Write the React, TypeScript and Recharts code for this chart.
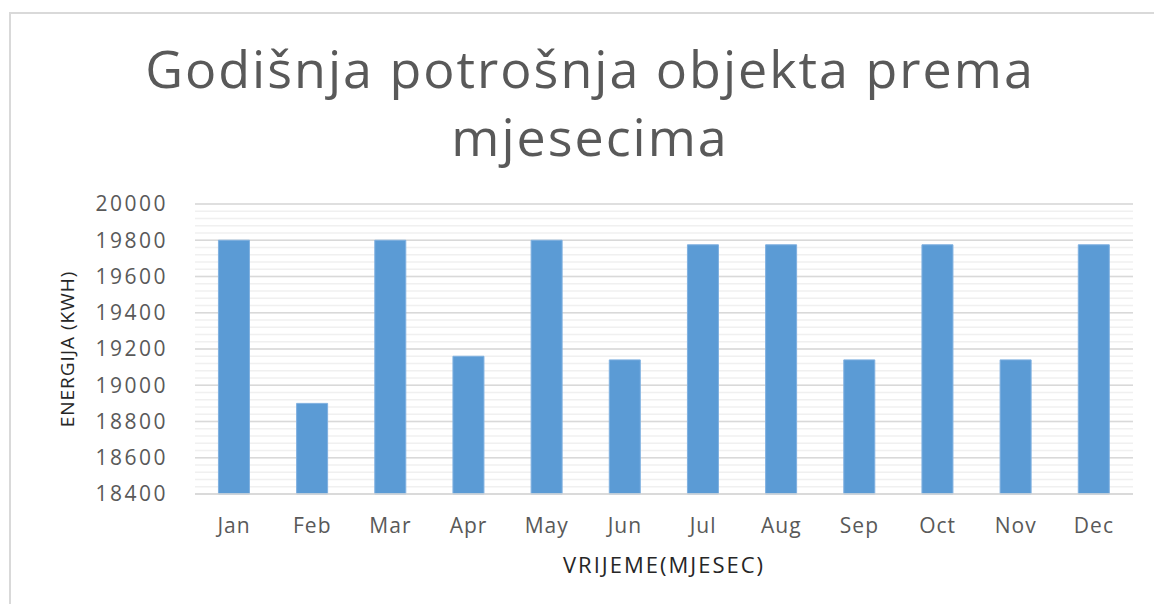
import { BarChart, Bar, XAxis, YAxis, CartesianGrid, Label } from "recharts";

const MONTHS = ["Jan", "Feb", "Mar", "Apr", "May", "Jun", "Jul", "Aug", "Sep", "Oct", "Nov", "Dec"];
const ENERGY = [19800, 18900, 19800, 19160, 19800, 19140, 19775, 19775, 19140, 19775, 19140, 19775];
const Y_TICKS = [18400, 18600, 18800, 19000, 19200, 19400, 19600, 19800, 20000];
// minor gridlines every 40 kWh, as in the Excel original
const MINOR_TICKS = Array.from({ length: 41 }, (_, i) => 18400 + i * 40);

const TITLE = ["Godišnja potrošnja objekta prema", "mjesecima"];
const X_TITLE = "VRIJEME(MJESEC)";
const Y_TITLE = "ENERGIJA (KWH)";

const FONT = "'Open Sans', sans-serif";
const TEXT = "#595959";

const data = MONTHS.map((m, i) => ({ month: m, value: ENERGY[i] }));

export default function App() {
  return (
    <div style={{ position: "absolute", left: 0, top: 0, width: 1154, height: 604, overflow: "hidden", background: "#fff", fontFamily: FONT }}>
      <div style={{ position: "absolute", left: 9, top: 12, width: 1200, height: 700, border: "2px solid #d9d9d9" }} />
      <div style={{ position: "absolute", left: 0, width: 1180, top: 34, textAlign: "center", color: TEXT, fontSize: 52, lineHeight: "68px", letterSpacing: 2 }}>
        {TITLE[0]}
        <br />
        {TITLE[1]}
      </div>
      <BarChart
        width={1154}
        height={604}
        data={data}
        margin={{ top: 204, right: 21, bottom: 50, left: 115 }}
        barCategoryGap="30%"
        style={{ position: "absolute", left: 0, top: 0 }}
      >
        <CartesianGrid horizontalValues={MINOR_TICKS} vertical={false} stroke="#f0f0f0" strokeWidth={1.5} />
        <CartesianGrid horizontalValues={Y_TICKS} vertical={false} stroke="#d9d9d9" strokeWidth={1.5} />
        <XAxis
          dataKey="month"
          height={60}
          axisLine={{ stroke: "#d9d9d9", strokeWidth: 1.5 }}
          tickLine={false}
          tickMargin={18}
          tick={{ fill: TEXT, fontSize: 21, fontFamily: FONT, letterSpacing: 1 }}
        >
          <Label
            content={({ viewBox }: any) => (
              <text x={viewBox.x + viewBox.width / 2} y={573} textAnchor="middle" fill="#262626" fontSize={22} letterSpacing={2} fontFamily={FONT}>
                {X_TITLE}
              </text>
            )}
          />
        </XAxis>
        <YAxis
          width={80}
          domain={[18400, 20000]}
          ticks={Y_TICKS}
          interval={0}
          axisLine={false}
          tickLine={false}
          tickMargin={21}
          tick={{ fill: TEXT, fontSize: 21, fontFamily: FONT, letterSpacing: 2.5 }}
        >
          <Label
            content={({ viewBox }: any) => {
              const cx = 74;
              const cy = viewBox.y + viewBox.height / 2;
              return (
                <text x={cx} y={cy} transform={`rotate(-90, ${cx}, ${cy})`} textAnchor="middle" fill="#262626" fontSize={19} letterSpacing={1} fontFamily={FONT}>
                  {Y_TITLE}
                </text>
              );
            }}
          />
        </YAxis>
        <Bar dataKey="value" fill="#5b9bd5" stroke="#7fb0e0" strokeWidth={1} isAnimationActive={false} />
      </BarChart>
    </div>
  );
}
